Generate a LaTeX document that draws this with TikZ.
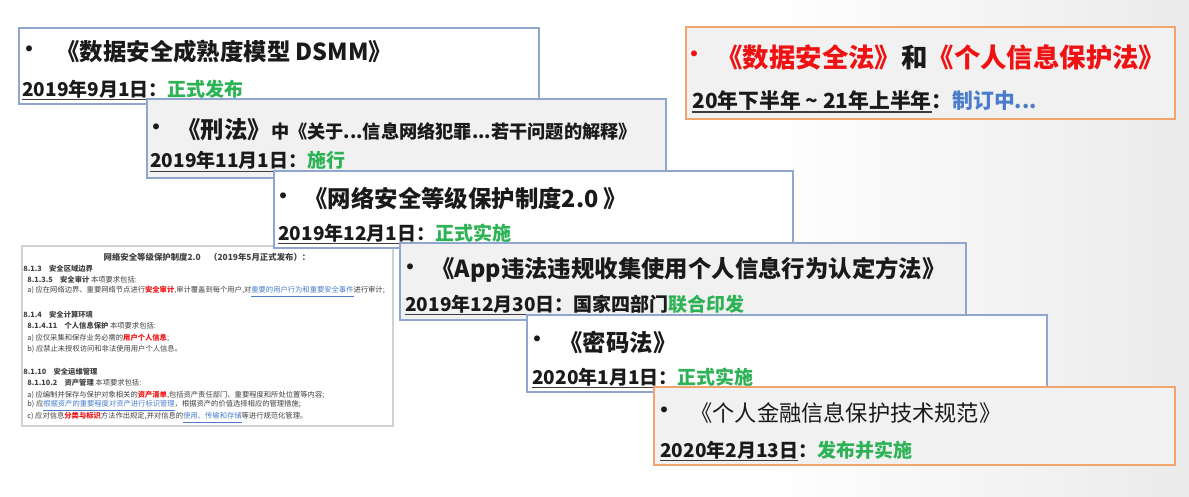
\documentclass[tikz,border=0pt]{standalone}
\usepackage{fontspec}
\setmainfont{Noto Sans CJK SC}
\definecolor{bord}{HTML}{8EA6D0}
\definecolor{orng}{HTML}{F2A46E}
\definecolor{boxgray}{HTML}{F1F1F1}
\definecolor{grn}{HTML}{2DB256}
\definecolor{blu}{HTML}{4A7CCB}
\definecolor{rd}{HTML}{F01212}
\definecolor{ink}{HTML}{1A1A1A}
\newcommand\dul[1]{\setbox0\hbox{#1}\rlap{\color{ink!85}\rule[-2.2pt]{\wd0}{0.9pt}}\box0}
\tikzset{
  card/.style={draw=bord, line width=0.8pt, fill=white},
  graycard/.style={card, fill=boxgray},
  orangecard/.style={draw=orng, line width=0.9pt, fill=boxgray},
  doc/.style={draw=black!18, line width=0.6pt, fill=white},
  titletext/.style={font=\bfseries\fontsize{11.7}{14}\selectfont, inner sep=0pt, anchor=west, text=ink},
  datetext/.style={font=\bfseries\fontsize{9.5}{11}\selectfont, inner sep=0pt, anchor=west, text=ink},
  bul/.style={font=\fontsize{14}{16}\selectfont, inner sep=0pt, text=ink},
  docl/.style={font=\fontsize{3.65}{4.4}\selectfont, inner sep=0pt, anchor=west, text=black!75},
}
\begin{document}
\begin{tikzpicture}[x=0.5pt, y=-0.5pt]
\useasboundingbox (0,0) rectangle (1189,497);
\fill[white] (0,0) rectangle (1189,497);
\shade[left color=white, right color=black!8] (760,0) rectangle (1189,497);

% document image
\path[doc] (22,246) rectangle (393,426);
\node[docl, anchor=center, font=\bfseries\fontsize{4.2}{5}\selectfont] (d0) at (207,257) {网络安全等级保护制度2.0\quad （2019年5月正式发布）：};
\node[docl] (d1) at (23,269) {\textbf{8.1.3\quad 安全区域边界}};
\node[docl] (d2) at (27,280) {\textbf{8.1.3.5\quad 安全审计}\ 本项要求包括:};
\node[docl] (d3) at (27,292) {a) 应在网络边界、重要网络节点进行\textcolor{rd}{\textbf{安全审计}},审计覆盖到每个用户,对\textcolor{blu}{\underline{重要的用户行为和重要安全事件}}进行审计;};
\node[docl] (d4) at (23,315) {\textbf{8.1.4\quad 安全计算环境}};
\node[docl] (d5) at (27,326) {\textbf{8.1.4.11\quad 个人信息保护}\ 本项要求包括:};
\node[docl] (d6) at (27,338) {a) 应仅采集和保存业务必需的\textcolor{rd}{\textbf{用户个人信息}};};
\node[docl] (d7) at (27,349) {b) 应禁止未授权访问和非法使用用户个人信息。};
\node[docl] (d8) at (23,372) {\textbf{8.1.10\quad 安全运维管理}};
\node[docl] (d9) at (27,383) {\textbf{8.1.10.2\quad 资产管理}\ 本项要求包括:};
\node[docl] (d10) at (27,395) {a) 应编制并保存与保护对象相关的\textcolor{rd}{\textbf{资产清单}},包括资产责任部门、重要程度和所处位置等内容;};
\node[docl] (d11) at (27,406) {b) 应\textcolor{blu}{\underline{根据资产的重要程度对资产进行标识管理}}，根据资产的价值选择相应的管理措施;};
\node[docl] (d12) at (27,418) {c) 应对信息\textcolor{rd}{\textbf{分类与标识}}方法作出规定,并对信息的\textcolor{blu}{\underline{使用、传输和存储}}等进行规范化管理。};

% box 1
\path[card] (19,28) rectangle (539,104);
\node[bul] (b1) at (29,53) {•};
\node[titletext] (t1) at (56,52) {《数据安全成熟度模型 DSMM》};
\node[datetext] (s1) at (22,90) {\dul{2019年9月1日}：\textcolor{grn}{正式发布}};

% box 2
\path[graycard] (147,99) rectangle (666,178);
\node[bul] (b2) at (156,131) {•};
\node[titletext] (t2) at (177,130) {《刑法》\fontsize{9.1}{11}\selectfont 中《关于...信息网络犯罪...若干问题的解释》};
\node[datetext] (s2) at (150,162) {\dul{2019年11月1日}：\textcolor{grn}{施行}};

% box 3
\path[card] (274,171) rectangle (793,248);
\node[bul] (b3) at (283,200) {•};
\node[titletext] (t3) at (304,199) {《网络安全等级保护制度2.0 》};
\node[datetext] (s3) at (278,234) {\dul{2019年12月1日}：\textcolor{grn}{正式实施}};

% box 4
\path[graycard] (400,243) rectangle (966,320);
\node[bul] (b4) at (410,271) {•};
\node[titletext] (t4) at (431,270) {《App违法违规收集使用个人信息行为认定方法》};
\node[datetext] (s4) at (405,305) {\dul{2019年12月30日}：国家四部门\textcolor{grn}{联合印发}};

% box 5
\path[card] (527,315) rectangle (1047,392);
\node[bul] (b5) at (537,343) {•};
\node[titletext] (t5) at (559,342) {《密码法》};
\node[datetext] (s5) at (532,378) {\dul{2020年1月1日}：\textcolor{grn}{正式实施}};

% box 6
\path[orangecard] (654,387) rectangle (1175,465);
\node[bul] (b6) at (664,414) {•};
\node[titletext, font=\mdseries\fontsize{11.1}{14}\selectfont] (t6) at (690,413) {《个人金融信息保护技术规范》};
\node[datetext] (s6) at (660,451) {\dul{2020年2月13日}：\textcolor{grn}{发布并实施}};

% box 7
\path[orangecard] (686,27) rectangle (1175,119);
\node[bul, text=rd] (b7) at (694,58) {•};
\node[titletext, font=\bfseries\fontsize{13.2}{15}\selectfont] (t7) at (716,57) {\textcolor{rd}{《数据安全法》}和\textcolor{rd}{《个人信息保护法》}};
\node[datetext, font=\bfseries\fontsize{10.4}{12}\selectfont] (s7) at (692,102) {\dul{20年下半年 \textasciitilde{} 21年上半年}：\textcolor{blu}{制订中...}};
\end{tikzpicture}
\end{document}
